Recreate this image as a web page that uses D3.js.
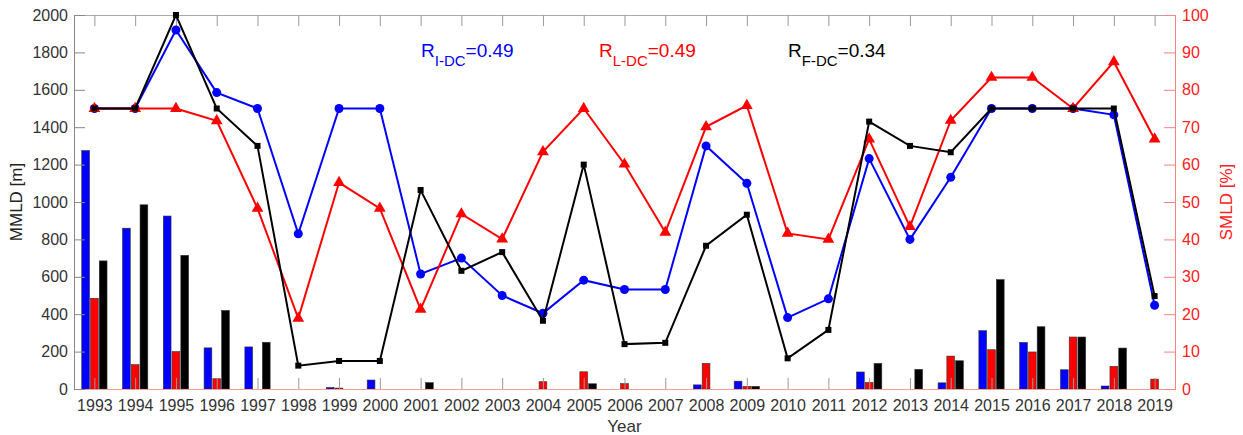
<!DOCTYPE html>
<html>
<head>
<meta charset="utf-8">
<script src="https://cdn.jsdelivr.net/npm/d3@7"></script>
<style>
  body { margin: 0; background: #fff; }
  text { font-family: "Liberation Sans", Arial, sans-serif; }
</style>
</head>
<body>
<svg></svg>
<script>
const years = d3.range(1993, 2020)

// line series: MMLD [m] (left axis) and SMLD [%] (right axis)
const mmldI = [1500, 1500, 1920, 1585, 1500, 830, 1500, 1500, 615, 700, 500, 405, 582, 532, 532, 1300, 1100, 382, 482, 1232, 800, 1132, 1500, 1500, 1500, 1466, 448]
const mmldF = [1500, 1500, 2000, 1500, 1300, 125, 150, 150, 1064, 632, 732, 365, 1200, 240, 247, 766, 932, 164, 316, 1430, 1300, 1266, 1500, 1500, 1500, 1500, 497]
const smldL = [75, 75, 75, 71.7, 48.3, 18.9, 55.2, 48.3, 21.3, 46.8, 40.1, 63.4, 75, 60.1, 41.9, 70.1, 75.8, 41.6, 40, 66.8, 43.4, 71.8, 83.3, 83.3, 75, 87.5, 66.8]

// bars (left axis units)
const barI = [1275, 860, 925, 220, 225, 0, 8, 48, 0, 0, 0, 0, 0, 0, 0, 22, 42, 0, 0, 91, 0, 33, 312, 249, 103, 16, 0]
const barL = [485, 130, 200, 55, 0, 0, 5, 0, 0, 0, 0, 39, 92, 29, 0, 137, 14, 0, 0, 35, 0, 176, 210, 198, 278, 121, 53]
const barF = [685, 985, 715, 420, 250, 0, 0, 0, 34, 0, 0, 0, 28, 0, 0, 0, 14, 0, 0, 137, 105, 151, 585, 333, 278, 219, 0]

const leftTicks = d3.range(0, 2001, 200)
const rightTicks = d3.range(0, 101, 10)

const corrLabels = [
  {sub: "I-DC", val: "=0.49", color: "#0000ff", x: 421},
  {sub: "L-DC", val: "=0.49", color: "#ff0000", x: 599},
  {sub: "F-DC", val: "=0.34", color: "#000000", x: 788}
]

const width = 1243, height = 435
const mLeft = 74, mRight = 1175, mTop = 15, mBottom = 389

const svg = d3.select("svg")
  .attr("width", width)
  .attr("height", height)

const x = d3.scaleLinear().domain([1992.5, 2019.5]).range([mLeft, mRight])
const yL = d3.scaleLinear().domain([0, 2000]).range([mBottom, mTop])
const yR = d3.scaleLinear().domain([0, 100]).range([mBottom, mTop])

const step = x(1994) - x(1993)
const bw = step * 0.19, off = step * 0.215

// bars
const barSeries = [
  {vals: barI, color: "#0000ff", dx: -off},
  {vals: barL, color: "#ff0000", dx: 0},
  {vals: barF, color: "#000000", dx: off}
]
barSeries.forEach(s => {
  svg.append("g").selectAll("rect")
    .data(years.map((yr, i) => ({yr, v: s.vals[i]})).filter(d => d.v > 0))
    .join("rect")
      .attr("x", d => x(d.yr) + s.dx - bw / 2)
      .attr("y", d => yL(d.v))
      .attr("width", bw)
      .attr("height", d => yL(0) - yL(d.v))
      .attr("fill", s.color)
      .attr("stroke", "#333")
      .attr("stroke-width", 0.6)
})

// axes
const fontFam = "Liberation Sans, Arial, sans-serif"

const xTop = d3.axisTop(x).tickValues(years).tickSize(-11).tickFormat("")
svg.append("g").attr("transform", `translate(0,${mTop})`).call(xTop)
  .call(g => g.selectAll("line").attr("stroke", "#999"))
  .call(g => g.select(".domain").attr("stroke", "#aaa"))

const xBot = d3.axisBottom(x).tickValues(years).tickSize(-11).tickPadding(11).tickFormat(d3.format("d"))
svg.append("g").attr("transform", `translate(0,${mBottom})`).call(xBot)
  .call(g => g.selectAll("line").attr("stroke", "#999"))
  .call(g => g.select(".domain").attr("stroke", "#ff9a9a"))
  .call(g => g.selectAll("text").attr("font-size", 16).attr("fill", "#333").attr("font-family", fontFam))

const yLeft = d3.axisLeft(yL).tickValues(leftTicks).tickSize(-11).tickPadding(6).tickFormat(d3.format("d"))
svg.append("g").attr("transform", `translate(${mLeft},0)`).call(yLeft)
  .call(g => g.selectAll("line").attr("stroke", "#888"))
  .call(g => g.select(".domain").attr("stroke", "#888"))
  .call(g => g.selectAll("text").attr("font-size", 16).attr("fill", "#333").attr("font-family", fontFam))

const yRight = d3.axisRight(yR).tickValues(rightTicks).tickSize(-11).tickPadding(7)
svg.append("g").attr("transform", `translate(${mRight},0)`).call(yRight)
  .call(g => g.selectAll("line").attr("stroke", "#ff8080"))
  .call(g => g.select(".domain").attr("stroke", "#ff8080"))
  .call(g => g.selectAll("text").attr("font-size", 16).attr("fill", "#ff2020").attr("font-family", fontFam))

// lines
const lineL = d3.line().x((d, i) => x(years[i])).y(d => yL(d))
const lineR = d3.line().x((d, i) => x(years[i])).y(d => yR(d))

svg.append("path").datum(mmldI).attr("d", lineL)
  .attr("fill", "none").attr("stroke", "#0000ff").attr("stroke-width", 2)
svg.append("g").selectAll("circle").data(mmldI).join("circle")
  .attr("cx", (d, i) => x(years[i])).attr("cy", d => yL(d)).attr("r", 4.5)
  .attr("fill", "#0000ff")

svg.append("path").datum(smldL).attr("d", lineR)
  .attr("fill", "none").attr("stroke", "#ff0000").attr("stroke-width", 2)
svg.append("g").selectAll("path").data(smldL).join("path")
  .attr("transform", (d, i) => `translate(${x(years[i])},${yR(d)})`)
  .attr("d", d3.symbol(d3.symbolTriangle, 60))
  .attr("fill", "#ff0000")

svg.append("path").datum(mmldF).attr("d", lineL)
  .attr("fill", "none").attr("stroke", "#000").attr("stroke-width", 2)
svg.append("g").selectAll("rect").data(mmldF).join("rect")
  .attr("x", (d, i) => x(years[i]) - 3).attr("y", d => yL(d) - 3)
  .attr("width", 6).attr("height", 6)
  .attr("fill", "#000")

// correlation labels
corrLabels.forEach(c => {
  const t = svg.append("text").attr("x", c.x).attr("y", 57)
    .attr("fill", c.color).attr("font-size", 19)
  t.append("tspan").text("R")
  t.append("tspan").attr("dy", 9).attr("font-size", 15).text(c.sub)
  t.append("tspan").attr("dy", -9).text(c.val)
})

// axis titles
svg.append("text")
  .attr("transform", `translate(22,${(mTop + mBottom) / 2}) rotate(-90)`)
  .attr("text-anchor", "middle").attr("font-size", 17).attr("fill", "#222")
  .text("MMLD [m]")
svg.append("text")
  .attr("transform", `translate(1232,${(mTop + mBottom) / 2}) rotate(-90)`)
  .attr("text-anchor", "middle").attr("font-size", 17).attr("fill", "#ff2020")
  .text("SMLD [%]")
svg.append("text")
  .attr("x", (mLeft + mRight) / 2).attr("y", 432)
  .attr("text-anchor", "middle").attr("font-size", 17).attr("fill", "#333")
  .text("Year")
</script>
</body>
</html>
